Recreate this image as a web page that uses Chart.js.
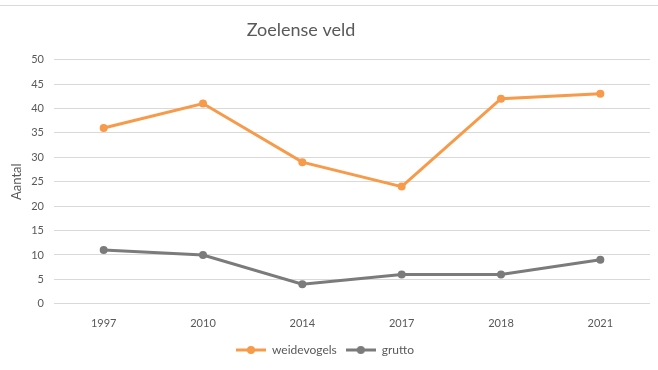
<!DOCTYPE html>
<html>
<head>
<meta charset="utf-8">
<script src="https://cdn.jsdelivr.net/npm/chart.js@4"></script>
<style>
  html, body { margin: 0; padding: 0; background: #fff; }
  #wrap { position: relative; width: 658px; height: 370px; }
  #wrap:before { content: ''; position: absolute; left: 0; right: 0; top: 5px; border-top: 1px solid #d9d9d9; }
</style>
</head>
<body>
<div id="wrap"><canvas id="grafiek" width="658" height="370"></canvas></div>
<script>
const jaren = ['1997', '2010', '2014', '2017', '2018', '2021'];
const weidevogels = [36, 41, 29, 24, 42, 43];
const grutto = [11, 10, 4, 6, 6, 9];

const oranje = '#f79a4a';
const grijs = '#7b7b7b';
const tekst = '#595959';
const lettertype = 'Lato, "Open Sans", sans-serif';

// klein plaatje voor de legenda: lijntje met bolletje
function legendaIcoon(kleur) {
    const c = document.createElement('canvas');
    c.width = 30; c.height = 10;
    const g = c.getContext('2d');
    g.strokeStyle = kleur; g.lineWidth = 3;
    g.beginPath(); g.moveTo(0, 5); g.lineTo(30, 5); g.stroke();
    g.fillStyle = kleur;
    g.beginPath(); g.arc(15, 5, 4, 0, Math.PI * 2); g.fill();
    return c;
}

const reeks = (label, data, kleur) => ({
    label, data,
    borderColor: kleur, backgroundColor: kleur,
    borderWidth: 3, pointRadius: 4, pointHoverRadius: 4,
    pointBorderWidth: 0, tension: 0
});

// titel staat iets links van het midden
const titelVerschuiving = {
    id: 'titelVerschuiving',
    afterLayout(chart) {
        if (chart.titleBlock) { chart.titleBlock.left -= 24; chart.titleBlock.right -= 24; }
    }
};

new Chart(document.getElementById('grafiek'), {
    type: 'line',
    data: { labels: jaren, datasets: [reeks('weidevogels', weidevogels, oranje), reeks('grutto', grutto, grijs)] },
    plugins: [titelVerschuiving],
    options: {
        responsive: false,
        animation: false,
        layout: { padding: { left: 0, right: 8, top: 18, bottom: 4 } },
        plugins: {
            title: { display: true, text: 'Zoelense veld', color: tekst, font: { family: lettertype, size: 18, weight: 'normal' }, padding: { top: 1, bottom: 19 } },
            tooltip: { enabled: false },
            legend: {
                position: 'bottom',
                labels: {
                    color: tekst, font: { family: lettertype, size: 12 },
                    usePointStyle: true, pointStyleWidth: 30, boxHeight: 10, padding: 9,
                    generateLabels: chart => chart.data.datasets.map((ds, i) => ({
                        text: ds.label, pointStyle: legendaIcoon(ds.borderColor),
                        fillStyle: ds.borderColor, strokeStyle: ds.borderColor, lineWidth: 0,
                        fontColor: tekst, datasetIndex: i, hidden: false
                    }))
                }
            }
        },
        scales: {
            x: {
                offset: true,
                grid: { display: false },
                border: { display: false },
                ticks: { color: tekst, font: { family: lettertype, size: 11 }, padding: 5 }
            },
            y: {
                min: 0, max: 50,
                ticks: { stepSize: 5, color: tekst, font: { family: lettertype, size: 11 }, padding: 10 },
                grid: { color: '#d9d9d9', drawTicks: false },
                border: { display: false },
                title: { display: true, text: 'Aantal', color: tekst, font: { family: lettertype, size: 13 }, padding: { top: 9, bottom: 0 } },
                afterFit: s => { s.width = 54; }
            }
        }
    }
});
</script>
</body>
</html>
